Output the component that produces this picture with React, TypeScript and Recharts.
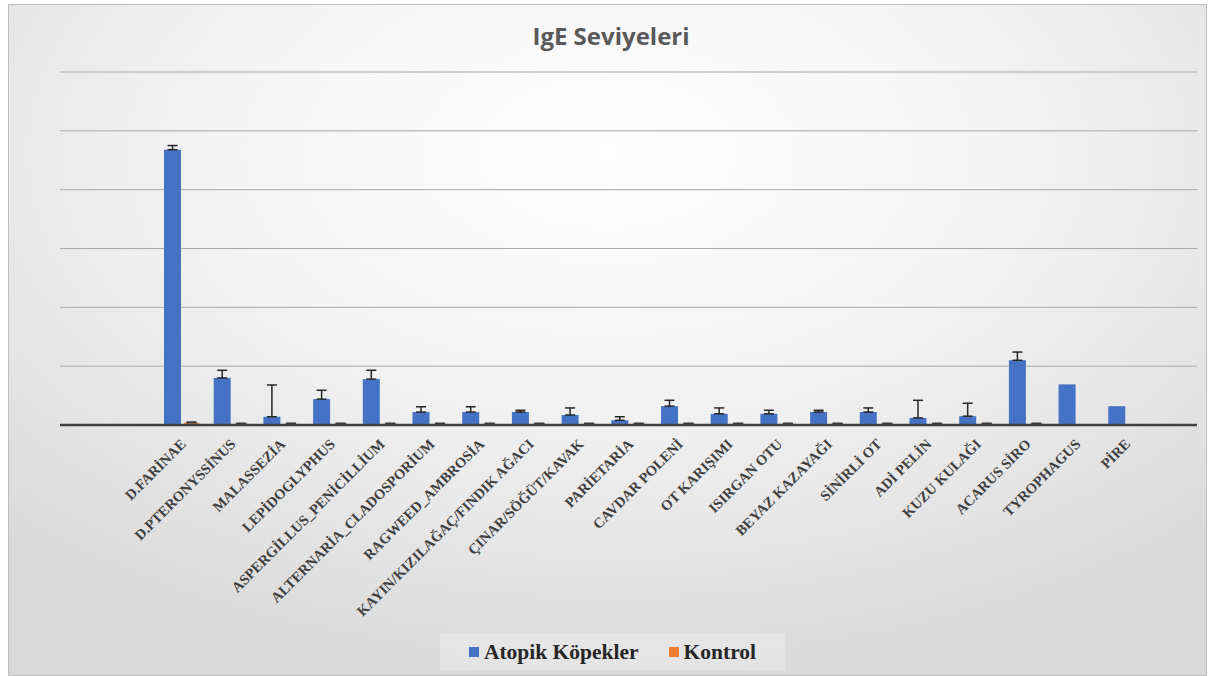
import { BarChart, Bar, XAxis, YAxis, CartesianGrid, Legend, ErrorBar } from 'recharts';

const allergens = [
  'D.FARİNAE',
  'D.PTERONYSSİNUS',
  'MALASSEZİA',
  'LEPİDOGLYPHUS',
  'ASPERGİLLUS_PENİCİLLİUM',
  'ALTERNARİA_CLADOSPORİUM',
  'RAGWEED_AMBROSİA',
  'KAYIN/KIZILAĞAÇ/FINDIK AĞACI',
  'ÇINAR/SÖĞÜT/KAVAK',
  'PARİETARİA',
  'CAVDAR POLENİ',
  'OT KARIŞIMI',
  'ISIRGAN OTU',
  'BEYAZ KAZAYAĞI',
  'SİNİRLİ OT',
  'ADİ PELİN',
  'KUZU KULAĞI',
  'ACARUS SİRO',
  'TYROPHAGUS',
  'PİRE',
];

const atopik = [468, 80, 14, 44, 78, 22, 22, 22, 17, 8, 32, 19, 19, 22, 22, 12, 15, 110, 69, 32];
// null = no error bar drawn
const atopikErr = [7, 13, 54, 15, 15, 9, 9, 3, 12, 6, 10, 10, 6, 3, 7, 30, 22, 14, null, null];
const kontrol = [4, 2, 2, 2, 2, 2, 2, 2, 2, 2, 2, 2, 2, 2, 2, 2, 2, 2, 0, 0];
const kontrolErr = [1, 1, 1, 1, 1, 1, 1, 1, 1, 1, 1, 1, 1, 1, 1, 1, 1, 1, null, null];

const yTicks = [0, 100, 200, 300, 400, 500, 600];

const BLUE = '#4472C4';
const ORANGE = '#ED7D31';

const data = allergens.map((name, i) => ({
  name,
  atopik: atopik[i],
  atopikErr: atopikErr[i] == null ? null : [0, atopikErr[i]],
  kontrol: kontrol[i],
  kontrolErr: kontrolErr[i] == null ? null : [0, kontrolErr[i]],
}));

const AllergenTick = ({ x, y, payload }: any) => (
  <text
    x={x + 5}
    y={y + 12}
    transform={`rotate(-45 ${x + 5} ${y + 12})`}
    textAnchor="end"
    fontFamily="'Liberation Serif', 'Times New Roman', serif"
    fontWeight="bold"
    fontSize={14.5}
    fill="#404040"
  >
    {payload.value}
  </text>
);

const LegendBox = () => (
  <div
    style={{
      height: 36,
      display: 'flex',
      alignItems: 'center',
      justifyContent: 'center',
      gap: 30,
      background: 'rgba(255,255,255,0.25)',
      fontFamily: "'Liberation Serif', 'Times New Roman', serif",
      fontWeight: 'bold',
      fontSize: 21.5,
      color: '#262626',
    }}
  >
    <span style={{ display: 'flex', alignItems: 'center', gap: 5 }}>
      <span style={{ width: 10, height: 10, background: BLUE, display: 'inline-block' }} />
      Atopik Köpekler
    </span>
    <span style={{ display: 'flex', alignItems: 'center', gap: 5 }}>
      <span style={{ width: 10, height: 10, background: ORANGE, display: 'inline-block' }} />
      Kontrol
    </span>
  </div>
);

export default function App() {
  return (
    <div style={{ position: 'absolute', left: 0, top: 0, width: 1217, height: 676, background: '#fff' }}>
      <div
        style={{
          position: 'absolute',
          left: 8,
          top: 4,
          width: 1197,
          height: 670,
          border: '1px solid #bdbdbd',
          background: 'radial-gradient(ellipse 75% 80% at 50% 22%, #ffffff 0%, #f3f3f3 45%, #d9d9d9 100%)',
        }}
      />
      <div
        style={{
          position: 'absolute',
          left: 0,
          top: 19,
          width: 1222,
          textAlign: 'center',
          fontFamily: "'Open Sans', 'Noto Sans', sans-serif",
          fontWeight: 'bold',
          fontSize: 24,
          color: '#595959',
        }}
      >
        IgE Seviyeleri
      </div>
      <div style={{ position: 'absolute', left: 0, top: 0 }}>
        <BarChart
          width={1217}
          height={676}
          data={data}
          margin={{ top: 72, right: 20, bottom: 0, left: 60 }}
          barGap={3}
        >
          <CartesianGrid vertical={false} stroke="#a8a8a8" />
          <XAxis
            dataKey="name"
            interval={0}
            height={215}
            padding={{ left: 97, right: 46 }}
            tick={<AllergenTick />}
            tickLine={false}
            axisLine={{ stroke: '#404040', strokeWidth: 2.5 }}
          />
          <YAxis hide domain={[0, 600]} ticks={yTicks} />
          <Legend
            content={<LegendBox />}
            verticalAlign="bottom"
            wrapperStyle={{ left: 440, width: 345, bottom: 6 }}
          />
          <Bar dataKey="atopik" name="Atopik Köpekler" fill={BLUE} barSize={17} isAnimationActive={false}>
            <ErrorBar dataKey="atopikErr" direction="y" width={5} stroke="#262626" strokeWidth={1.5} />
          </Bar>
          <Bar dataKey="kontrol" name="Kontrol" fill={ORANGE} barSize={15} isAnimationActive={false}>
            <ErrorBar dataKey="kontrolErr" direction="y" width={5} stroke="#3a3a3a" strokeWidth={1.5} />
          </Bar>
        </BarChart>
      </div>
    </div>
  );
}
